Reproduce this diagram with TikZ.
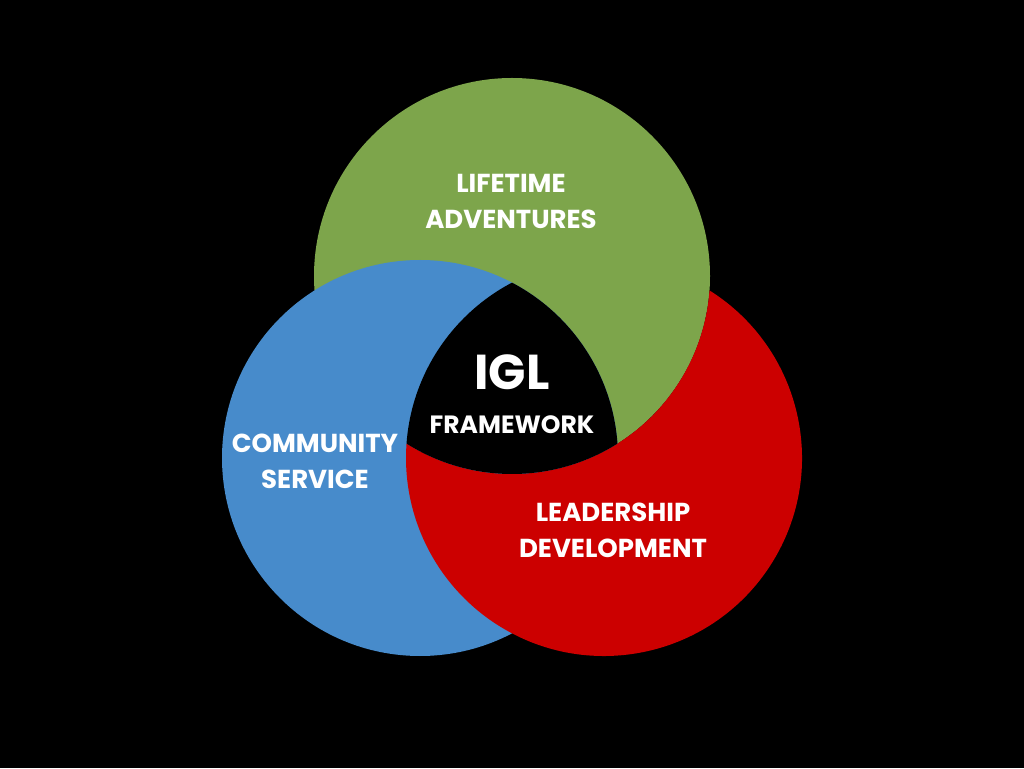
\documentclass[tikz,border=0pt]{standalone}
\usepackage{fontspec}
\setmainfont{Poppins}[UprightFont=* Bold]
\usetikzlibrary{calc}
\definecolor{Leaf}{HTML}{7DA54B}
\definecolor{Sky}{HTML}{478BCB}
\definecolor{Ruby}{HTML}{CC0000}

\begin{document}
\begin{tikzpicture}[x=1pt, y=1pt,
        ringlabel/.style={text=white, align=center, font=\fontsize{26}{36}\selectfont}]
            \useasboundingbox[fill=black] (0,0) rectangle (1024,768);
            \coordinate (lifetime) at (512,492);
            \coordinate (community) at (420,310);
            \coordinate (leadership) at (604,310);

            % the three rings, each one lying over the next
            \fill[Leaf] (lifetime) circle[radius=198];
            \fill[Sky] (community) circle[radius=198];
            % red ring without the part that green keeps
            \fill[Ruby] (leadership) ++(57.81:198)
                arc[start angle=57.81, end angle=-184.18, radius=198]
                arc[start angle=-122.19, end angle=-4.18, radius=198] -- cycle;
            \begin{scope}
                \clip (lifetime) circle[radius=198];
                \clip (community) circle[radius=198];
                \fill[black] (leadership) circle[radius=198];
            \end{scope}

            \node[ringlabel] (adventures) at (511,567) {LIFETIME\\ADVENTURES};
            \node[ringlabel] (service) at (315,307) {COMMUNITY\\SERVICE};
            \node[ringlabel] (development) at (613,238) {LEADERSHIP\\DEVELOPMENT};
            \node[text=white, font=\fontsize{49}{52}\selectfont] (igl) at (512,396) {IGL};
            \node[text=white, font=\fontsize{25}{28}\selectfont] (framework) at (512,343) {FRAMEWORK};
        \end{tikzpicture}
\end{document}
